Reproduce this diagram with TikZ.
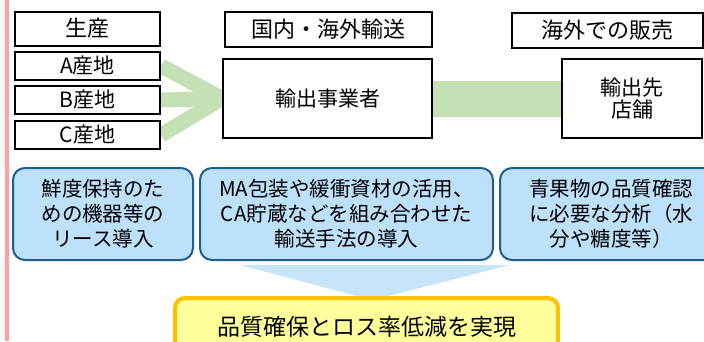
\documentclass[tikz,border=0pt]{standalone}
\usepackage{fontspec}
\setmainfont{Noto Sans CJK JP}
\usetikzlibrary{backgrounds}

\definecolor{sidepink}{HTML}{FF9F9F}
\definecolor{flowgreen}{HTML}{C5E0B4}
\definecolor{measfill}{HTML}{BDE1FB}
\definecolor{measedge}{HTML}{1F5E8E}
\definecolor{pointblue}{HTML}{C6E5F8}
\definecolor{goalfill}{HTML}{FFFF9C}
\definecolor{goaledge}{HTML}{FFC000}

\tikzset{
  plain/.style={draw, fill=white, line width=2pt, inner sep=0pt, align=center,
    font=\fontsize{21}{22}\selectfont},
  measure/.style={draw=measedge, fill=measfill, line width=2pt, rounded corners=12pt,
    inner sep=0pt, align=center, minimum height=92pt, font=\fontsize{20.5}{25}\selectfont},
  goal/.style={draw=goaledge, fill=goalfill, line width=4pt, rounded corners=10pt,
    inner sep=0pt, align=center, font=\fontsize{23}{25}\selectfont},
}

\begin{document}
\begin{tikzpicture}[x=1pt, y=-1pt]
  \useasboundingbox (0,0) rectangle (704,341);
  \draw[sidepink, line width=3.5pt] (7,0) -- (7,341);

  % headings
  \node[plain, minimum width=145pt, minimum height=34pt, font=\fontsize{22}{24}\selectfont] (prod) at (87.5,28.5) {生産};
  \node[plain, minimum width=207pt, minimum height=35pt, font=\fontsize{22}{24}\selectfont] (route) at (328.5,29.5) {国内・海外輸送};
  \node[plain, minimum width=191pt, minimum height=35pt, font=\fontsize{22}{24}\selectfont] (sales) at (607.5,30.5) {海外での販売};

  % actors
  \foreach \s/\y in {A/66,B/100,C/135} {
    \node[plain, minimum width=145pt, minimum height=28pt] (\s) at (87.5,\y) {\s{}産地};
  }
  \node[plain, minimum width=209pt, minimum height=79pt] (firm) at (327.5,98.5) {輸出事業者};
  \node[plain, minimum width=140pt, minimum height=79pt, font=\fontsize{21}{21.5}\selectfont] (shop) at (632,98.5) {輸出先\\店舗};

  \begin{pgfonlayer}{background}
    \foreach \s in {A,B,C} {
      \draw[flowgreen, line width=15pt] (\s.east) -- (firm.west);
    }
    \draw[flowgreen, line width=36pt] (firm.east) -- (shop.west);
  \end{pgfonlayer}

  % measures
  \node[measure, minimum width=180pt] (m1) at (103,214) {鮮度保持のた\\めの機器等の\\リース導入};
  \node[measure, minimum width=293pt] (m2) at (346.5,214) {MA包装や緩衝資材の活用、\\CA貯蔵などを組み合わせた\\輸送手法の導入};
  \node[measure, minimum width=222pt] (m3) at (611,214) {青果物の品質確認\\に必要な分析（水\\分や糖度等）};

  \fill[pointblue] (240,265) -- (510,265) -- (372,300) -- cycle;
  \node[goal, minimum width=383pt, minimum height=58pt] (res) at (366.5,327) {品質確保とロス率低減を実現};
\end{tikzpicture}
\end{document}
